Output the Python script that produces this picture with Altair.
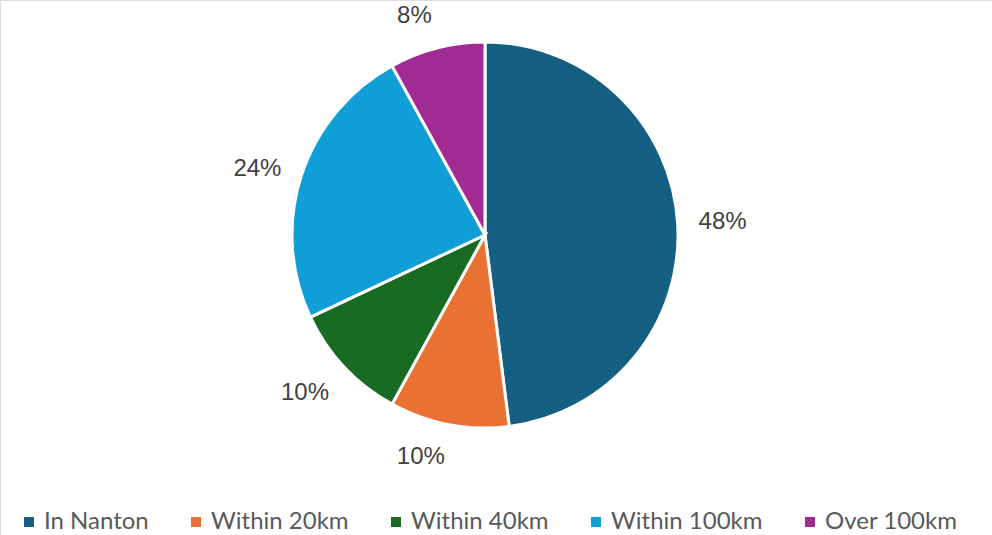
import altair as alt
import pandas as pd

categories = ["In Nanton", "Within 20km", "Within 40km", "Within 100km", "Over 100km"]
values = [48, 10, 10, 24, 8]
labels = ["48%", "10%", "10%", "24%", "8%"]
colors = ["#156082", "#E97132", "#196B24", "#0F9ED5", "#A02B93"]

df = pd.DataFrame({
    "category": categories,
    "value": values,
    "label": labels,
    "order": list(range(len(categories))),
})

CX, CY = 485, 235

base = alt.Chart(df).encode(
    theta=alt.Theta("value:Q", stack=True),
    order=alt.Order("order:Q"),
)

pie = base.mark_arc(outerRadius=193, stroke="white", strokeWidth=3).encode(
    x=alt.value(CX),
    y=alt.value(CY),
    color=alt.Color(
        "category:N",
        scale=alt.Scale(domain=categories, range=colors),
        sort=categories,
        legend=alt.Legend(
            title=None,
            orient="none",
            direction="horizontal",
            legendX=17,
            legendY=510,
            symbolType="square",
            symbolSize=100,
            symbolStrokeWidth=0,
            labelFont="Lato",
            labelFontSize=24,
            labelColor="#595959",
            labelOffset=3,
            columnPadding=35,
        ),
    ),
)

ang = "(2*PI*datum.mid)"
text = base.transform_window(
    cum="sum(value)", sort=[alt.SortField("order")]
).transform_joinaggregate(
    total="sum(value)"
).transform_calculate(
    mid="(datum.cum - datum.value/2)/datum.total"
).mark_text(
    radius=214, font="Liberation Sans", fontSize=24, color="#404040",
    align={"expr": f"sin({ang}) > 0 ? 'left' : 'right'"},
    baseline={"expr": f"cos({ang}) > 0.5 ? 'bottom' : (cos({ang}) < -0.5 ? 'top' : 'middle')"},
).encode(
    x=alt.value(CX),
    y=alt.value(CY),
    text="label:N",
)

chart = alt.layer(pie, text).properties(
    width=992, height=535,
    autosize=alt.AutoSizeParams(type="none"),
    padding=0,
).configure_view(stroke=None).configure(background="white")

chart.save("out.html", embed_options={"renderer": "svg", "actions": False})
